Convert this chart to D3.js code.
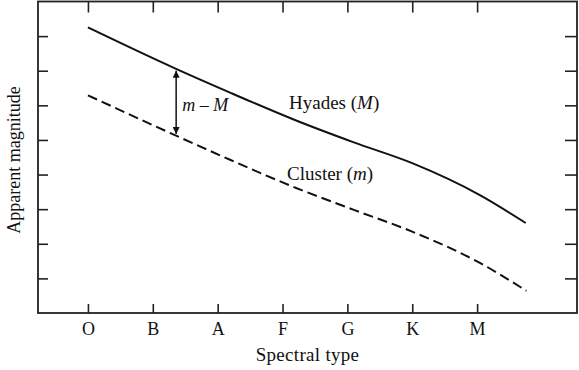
<!DOCTYPE html>
<html>
<head>
<meta charset="utf-8">
<script src="https://cdn.jsdelivr.net/npm/d3@7"></script>
<style>
  body { margin: 0; background: #fff; }
  text { font-family: "Liberation Serif", "Times New Roman", serif; fill: #111; }
</style>
</head>
<body>
<div id="chart"></div>
<script>
// spectral classes sit on integer positions 0..6
const spectralTypes = ["O", "B", "A", "F", "G", "K", "M"]
const magTicks = [1, 2, 3, 4, 5, 6, 7, 8]

// Hyades main sequence (absolute magnitude M)
const hyadesX = [0, 1.35, 2.2, 3.2, 4.1, 5, 6.05, 6.75]
const hyadesMag = [8.25, 7.06, 6.36, 5.57, 4.93, 4.33, 3.4, 2.6]

// cluster main sequence (apparent magnitude m)
const clusterX = [0, 1.34, 2.2, 3.2, 4.1, 5, 6.05, 6.76]
const clusterMag = [6.29, 5.14, 4.42, 3.62, 2.98, 2.35, 1.44, 0.64]

// m - M arrow position
const arrowX = 1.36
const arrowTop = 7.0
const arrowBottom = 5.17

const width = 579, height = 370
const margin = { top: 1.5, right: 2, bottom: 57, left: 38 }
const w = width - margin.left - margin.right
const h = height - margin.top - margin.bottom

const svg = d3.select("#chart").append("svg")
  .attr("width", width)
  .attr("height", height)

const g = svg.append("g")
  .attr("transform", `translate(${margin.left},${margin.top})`)

const x = d3.scaleLinear().domain([-0.77, 7.54]).range([0, w])
const y = d3.scaleLinear().domain([0, 9]).range([h, 0])

// ticks all point inward
const bottomAxis = d3.axisBottom(x)
  .tickValues(d3.range(spectralTypes.length))
  .tickFormat((d) => spectralTypes[d])
  .tickSizeInner(-9).tickSizeOuter(0).tickPadding(9)
g.append("g").attr("transform", `translate(0,${h})`).call(bottomAxis)

const topAxis = d3.axisTop(x)
  .tickValues(d3.range(spectralTypes.length))
  .tickFormat("")
  .tickSizeInner(-11).tickSizeOuter(0)
g.append("g").call(topAxis)

const leftAxis = d3.axisLeft(y).tickValues(magTicks).tickFormat("").tickSizeInner(-10).tickSizeOuter(0)
g.append("g").call(leftAxis)

const rightAxis = d3.axisRight(y).tickValues(magTicks).tickFormat("").tickSizeInner(-12).tickSizeOuter(0)
g.append("g").attr("transform", `translate(${w},0)`).call(rightAxis)

g.selectAll(".domain").remove()
g.selectAll(".tick line").attr("stroke", "#222").attr("stroke-width", 1.6)
g.selectAll(".tick text")
  .style("font-family", "'Liberation Serif', serif")
  .style("font-size", "18px")
  .attr("fill", "#111")

// frame
g.append("rect")
  .attr("width", w).attr("height", h)
  .attr("fill", "none")
  .attr("stroke", "#222")
  .attr("stroke-width", 1.8)

const line = d3.line()
  .x((d) => x(d[0]))
  .y((d) => y(d[1]))
  .curve(d3.curveMonotoneX)

g.append("path")
  .datum(d3.zip(hyadesX, hyadesMag))
  .attr("d", line)
  .attr("fill", "none")
  .attr("stroke", "#111")
  .attr("stroke-width", 2)

g.append("path")
  .datum(d3.zip(clusterX, clusterMag))
  .attr("d", line)
  .attr("fill", "none")
  .attr("stroke", "#111")
  .attr("stroke-width", 2)
  .attr("stroke-dasharray", "10,5")

// double-headed arrow
svg.append("defs").append("marker")
  .attr("id", "head")
  .attr("viewBox", "0 0 10 10")
  .attr("refX", 10).attr("refY", 5)
  .attr("markerWidth", 7).attr("markerHeight", 7)
  .attr("markerUnits", "userSpaceOnUse")
  .attr("orient", "auto-start-reverse")
  .append("path")
  .attr("d", "M0,0 L10,5 L0,10 Z")
  .attr("fill", "#111")

g.append("line")
  .attr("x1", x(arrowX)).attr("x2", x(arrowX))
  .attr("y1", y(arrowTop)).attr("y2", y(arrowBottom))
  .attr("stroke", "#111")
  .attr("stroke-width", 1.5)
  .attr("marker-start", "url(#head)")
  .attr("marker-end", "url(#head)")

// annotations
const note = g.append("text")
  .attr("x", x(arrowX) + 6)
  .attr("y", y(arrowTop) + 40)
  .style("font-size", "18px")
note.append("tspan").style("font-style", "italic").text("m")
note.append("tspan").text(" \u2013 ")
note.append("tspan").style("font-style", "italic").text("M")

const hy = g.append("text")
  .attr("x", x(3.1)).attr("y", y(5.9))
  .style("font-size", "19px")
hy.append("tspan").text("Hyades (")
hy.append("tspan").style("font-style", "italic").text("M")
hy.append("tspan").text(")")

const cl = g.append("text")
  .attr("x", x(3.07)).attr("y", y(3.85))
  .style("font-size", "19px")
cl.append("tspan").text("Cluster (")
cl.append("tspan").style("font-style", "italic").text("m")
cl.append("tspan").text(")")

// axis titles
svg.append("text")
  .attr("x", margin.left + w / 2)
  .attr("y", 361)
  .attr("text-anchor", "middle")
  .style("font-size", "19px")
  .style("letter-spacing", "0.3px")
  .text("Spectral type")

svg.append("text")
  .attr("transform", `translate(20,160) rotate(-90)`)
  .attr("text-anchor", "middle")
  .style("font-size", "18px")
  .text("Apparent magnitude")
</script>
</body>
</html>
